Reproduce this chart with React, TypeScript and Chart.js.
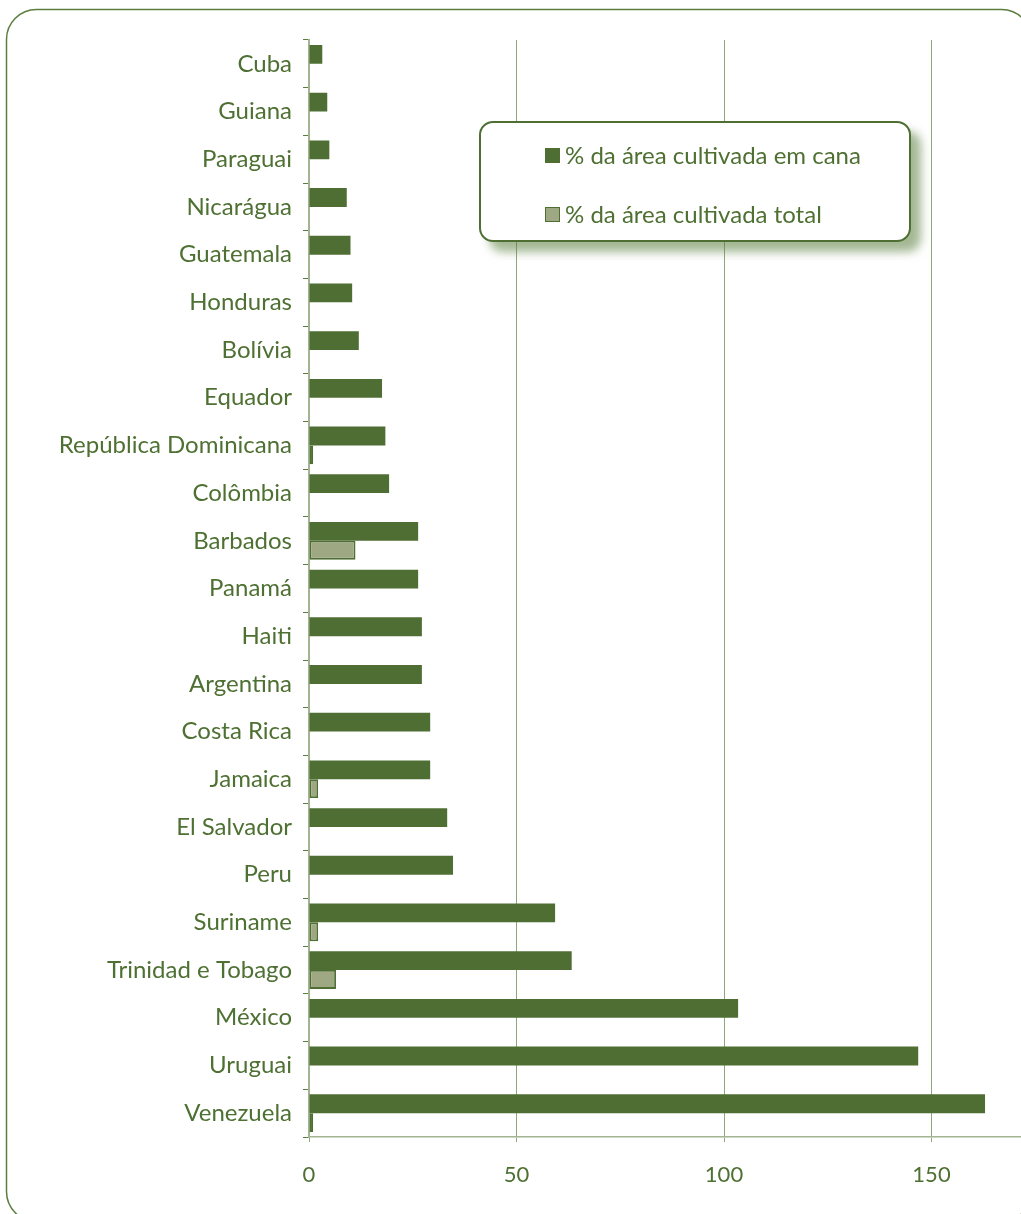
import React, { useEffect, useRef } from "react";
import { Chart, registerables } from "chart.js";

Chart.register(...registerables);

const countries = [
  "Cuba", "Guiana", "Paraguai", "Nicarágua", "Guatemala", "Honduras", "Bolívia",
  "Equador", "República Dominicana", "Colômbia", "Barbados", "Panamá", "Haiti",
  "Argentina", "Costa Rica", "Jamaica", "El Salvador", "Peru", "Suriname",
  "Trinidad e Tobago", "México", "Uruguai", "Venezuela",
];

const canaValues = [
  3.2, 4.4, 4.9, 9.1, 10.0, 10.4, 12.0,
  17.6, 18.4, 19.3, 26.3, 26.3, 27.2,
  27.2, 29.2, 29.2, 33.3, 34.7, 59.3,
  63.3, 103.4, 146.8, 162.9,
];

const totalValues: (number | null)[] = [
  null, null, null, null, null, null, null,
  null, 1.0, null, 11.2, null, null,
  null, null, 2.2, null, null, 2.2,
  6.5, null, null, 1.0,
];

const xTickValues = [0, 50, 100, 150];

const seriesLabels = ["% da área cultivada em cana", "% da área cultivada total"];

const DARK = "#4e6e33";
const LIGHT = "#9ea882";
const TEXT = "#4e7032";
const FONT = "Lato, 'Open Sans', sans-serif";

const framePlugin = {
  id: "frame",
  beforeDraw(chart: any) {
    const ctx = chart.ctx;
    ctx.save();
    ctx.strokeStyle = "#5b7d3e";
    ctx.lineWidth = 1.5;
    ctx.beginPath();
    ctx.roundRect(6.5, 9.5, 1025, 1212, 30);
    ctx.stroke();
    ctx.restore();
  },
};

export default function App() {
  const ref = useRef<HTMLCanvasElement | null>(null);

  useEffect(() => {
    if (!ref.current) return;
    const chart = new Chart(ref.current, {
      type: "bar",
      data: {
        labels: countries,
        datasets: [
          {
            label: seriesLabels[0],
            data: canaValues,
            backgroundColor: DARK,
            borderWidth: 0,
            categoryPercentage: 0.79,
            barPercentage: 1,
          },
          {
            label: seriesLabels[1],
            data: totalValues as any,
            backgroundColor: LIGHT,
            borderColor: DARK,
            borderWidth: 1.8,
            borderSkipped: false,
            categoryPercentage: 0.79,
            barPercentage: 1,
          },
        ],
      },
      plugins: [framePlugin],
      options: {
        indexAxis: "y",
        animation: false,
        responsive: false,
        maintainAspectRatio: false,
        layout: { padding: { top: 40, right: 4.75, bottom: 0, left: 0 } },
        plugins: {
          legend: { display: false },
          tooltip: { enabled: false },
        },
        scales: {
          x: {
            type: "linear",
            min: 0,
            max: 175,
            afterBuildTicks(scale: any) {
              scale.ticks = xTickValues.map((v) => ({ value: v }));
            },
            afterFit(scale: any) {
              scale.height = 77;
            },
            grid: {
              color: "#8ea77a",
              lineWidth: 1,
              tickLength: 5,
              drawTicks: true,
            },
            border: { color: "#a3b492", width: 1.5 },
            ticks: {
              color: TEXT,
              font: { family: FONT, size: 22 },
              padding: 20,
              maxRotation: 0,
            },
          },
          y: {
            type: "category",
            afterFit(scale: any) {
              scale.width = 309;
            },
            grid: {
              drawOnChartArea: false,
              tickLength: 6,
              color: "#5b7d3e",
              offset: true,
            },
            border: { color: "#a3b492", width: 2 },
            ticks: {
              color: TEXT,
              font: { family: FONT, size: 24 },
              padding: 11,
            },
          },
        },
      },
    } as any);
    return () => chart.destroy();
  }, []);

  return (
    <div
      style={{
        position: "absolute",
        left: 0,
        top: 0,
        width: 1021,
        height: 1214,
        overflow: "hidden",
        background: "#ffffff",
      }}
    >
      <canvas ref={ref} width={1040} height={1214} style={{ display: "block" }} />
      <div
        style={{
          position: "absolute",
          left: 479,
          top: 121,
          width: 428,
          height: 117,
          border: `2.5px solid ${DARK}`,
          borderRadius: 14,
          background: "#ffffff",
          boxShadow: "10px 10px 10px rgba(90,125,60,0.55)",
          fontFamily: FONT,
          fontSize: 24,
          color: TEXT,
        }}
      >
        {seriesLabels.map((lab, i) => (
          <div
            key={lab}
            style={{
              position: "absolute",
              left: 64,
              top: i === 0 ? 17 : 76,
              display: "flex",
              alignItems: "center",
              whiteSpace: "nowrap",
              lineHeight: "30px",
            }}
          >
            <span
              style={{
                display: "inline-block",
                width: i === 0 ? 15 : 13,
                height: i === 0 ? 15 : 13,
                background: i === 0 ? DARK : LIGHT,
                border: i === 0 ? "none" : `1.5px solid ${DARK}`,
                marginRight: 5,
              }}
            />
            <span>{lab}</span>
          </div>
        ))}
      </div>
    </div>
  );
}
